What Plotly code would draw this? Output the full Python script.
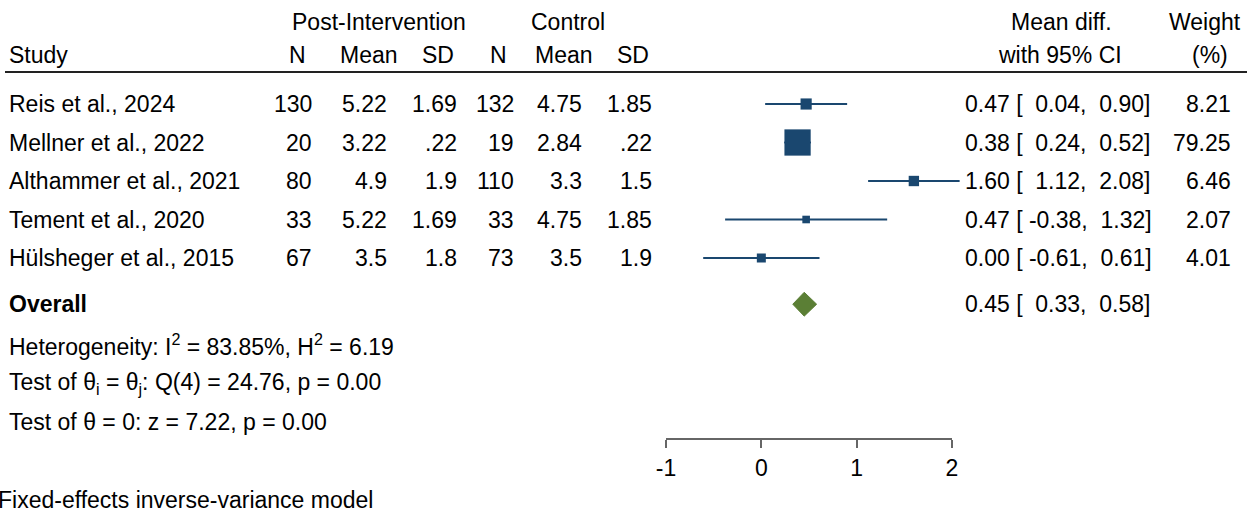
import plotly.graph_objects as go

# ---- data -------------------------------------------------------------
studies = ["Reis et al., 2024", "Mellner et al., 2022", "Althammer et al., 2021",
           "Tement et al., 2020", "Hülsheger et al., 2015"]
post_n = [130, 20, 80, 33, 67]
post_mean = ["5.22", "3.22", "4.9", "5.22", "3.5"]
post_sd = ["1.69", ".22", "1.9", "1.69", "1.8"]
ctrl_n = [132, 19, 110, 33, 73]
ctrl_mean = ["4.75", "2.84", "3.3", "4.75", "3.5"]
ctrl_sd = ["1.85", ".22", "1.5", "1.85", "1.9"]
mean_diff = [0.47, 0.38, 1.60, 0.47, 0.00]
ci_low = [0.04, 0.24, 1.12, -0.38, -0.61]
ci_high = [0.90, 0.52, 2.08, 1.32, 0.61]
weights = [8.21, 79.25, 6.46, 2.07, 4.01]

overall_est, overall_low, overall_high = 0.45, 0.33, 0.58
i2, h2 = 83.85, 6.19
q_df, q_stat, q_p = 4, 24.76, 0.00
z_stat, z_p = 7.22, 0.00
axis_ticks = [-1, 0, 1, 2]

# ---- geometry ---------------------------------------------------------
W, H = 1247, 510
FONT = "Liberation Sans, Arial, sans-serif"
FS = 23
NAVY = "#1a476f"
GREEN = "#5b7f35"

AX_L, AX_R = 666, 952                      # pixel span of the -1..2 axis
px_per_unit = (AX_R - AX_L) / (axis_ticks[-1] - axis_ticks[0])
x_lo = axis_ticks[0] - AX_L / px_per_unit
x_hi = x_lo + W / px_per_unit

ROW0, ROW_H = 104, 38.5                    # first study row centre / spacing
y_top = -ROW0 / ROW_H
y_bot = (H - ROW0) / ROW_H
overall_row = 5.2
stat_rows = [6.25, 7.25, 8.25]
rows = list(range(len(studies)))


def px(x):
    return x / W


def py(y):
    return 1 - y / H


fig = go.Figure()

# confidence interval whiskers
for r, lo, hi in zip(rows, ci_low, ci_high):
    fig.add_trace(go.Scatter(x=[lo, hi], y=[r, r], mode="lines",
                             line=dict(color=NAVY, width=1.8),
                             hoverinfo="skip", showlegend=False))

# weighted study squares
fig.add_trace(go.Scatter(
    x=mean_diff, y=rows, mode="markers",
    marker=dict(symbol="square", color=NAVY, opacity=1,
                size=[4 + 2.5 * w ** 0.5 for w in weights], line=dict(width=0)),
    hoverinfo="skip", showlegend=False))

# overall diamond
dh = 0.31
fig.add_trace(go.Scatter(
    x=[overall_low, overall_est, overall_high, overall_est, overall_low],
    y=[overall_row, overall_row - dh, overall_row, overall_row + dh, overall_row],
    mode="lines", fill="toself", fillcolor=GREEN,
    line=dict(color=GREEN, width=1), hoverinfo="skip", showlegend=False))

# placeholder trace so the visible effect axis is drawn
fig.add_trace(go.Scatter(x=axis_ticks, y=[None] * len(axis_ticks), xaxis="x2",
                         mode="markers", hoverinfo="skip", showlegend=False))

ann = []


def text(x, y, s, anchor="left", yref="y", bold=False):
    ann.append(dict(x=x, y=y, xref="paper", yref=yref, text=f"<b>{s}</b>" if bold else s,
                    showarrow=False, xanchor=anchor, yanchor="middle",
                    font=dict(family=FONT, size=FS, color="#000")))


# column headers
text(px(379), py(22), "Post-Intervention", "center", "paper")
text(px(568), py(22), "Control", "center", "paper")
text(px(1061), py(22), "Mean diff.", "center", "paper")
text(px(1205), py(22), "Weight", "center", "paper")
text(px(7), py(55), "Study", "left", "paper")
for cx, lab in [(297, "N"), (369, "Mean"), (438, "SD"),
                (498, "N"), (564, "Mean"), (633, "SD")]:
    text(px(cx), py(55), lab, "center", "paper")
text(px(1060), py(55), "with 95% CI", "center", "paper")
text(px(1210), py(55), "(%)", "center", "paper")

# study rows
NB = "\u00a0"
for r in rows:
    text(px(7), r, studies[r])
    text(px(314), r, str(post_n[r]), "right")
    text(px(389), r, post_mean[r], "right")
    text(px(459), r, post_sd[r], "right")
    text(px(516), r, str(ctrl_n[r]), "right")
    text(px(584), r, ctrl_mean[r], "right")
    text(px(654), r, ctrl_sd[r], "right")
    ci = f"{mean_diff[r]:.2f} [ {ci_low[r]:5.2f}, {ci_high[r]:5.2f}]".replace(" ", NB)
    text(px(963), r, ci)
    text(px(1233), r, f"{weights[r]:.2f}", "right")

# overall + statistics
text(px(7), overall_row, "Overall", bold=True)
ov = f"{overall_est:.2f} [ {overall_low:5.2f}, {overall_high:5.2f}]".replace(" ", NB)
text(px(963), overall_row, ov)
text(px(7), stat_rows[0],
     f"Heterogeneity: I<sup>2</sup> = {i2:.2f}%, H<sup>2</sup> = {h2:.2f}")
text(px(7), stat_rows[1],
     f"Test of θ<sub>i</sub> = θ<sub>j</sub>: Q({q_df}) = {q_stat:.2f}, p = {q_p:.2f}")
text(px(7), stat_rows[2], f"Test of θ = 0: z = {z_stat:.2f}, p = {z_p:.2f}")
text(px(-4), py(500), "Fixed-effects inverse-variance model", "left", "paper")

fig.update_layout(
    width=W, height=H, margin=dict(l=0, r=0, t=0, b=0, autoexpand=False),
    paper_bgcolor="white", plot_bgcolor="rgba(0,0,0,0)",
    annotations=ann,
    shapes=[dict(type="line", xref="paper", yref="paper", x0=px(5), x1=1,
                 y0=py(72), y1=py(72), line=dict(color="#222", width=2))],
    xaxis=dict(domain=[0, 1], range=[x_lo, x_hi], visible=False, fixedrange=True),
    xaxis2=dict(domain=[px(AX_L), px(AX_R)], range=[axis_ticks[0], axis_ticks[-1]],
                anchor="free", position=py(439), showline=True, linecolor="#666",
                linewidth=2, ticks="outside", ticklen=8, tickwidth=2, tickcolor="#666",
                tickvals=axis_ticks, ticktext=[str(t) for t in axis_ticks],
                showgrid=False, zeroline=False,
                tickfont=dict(family=FONT, size=FS, color="#000")),
    yaxis=dict(domain=[0, 1], range=[y_bot, y_top], visible=False, fixedrange=True),
)

fig.write_html("out.html")
